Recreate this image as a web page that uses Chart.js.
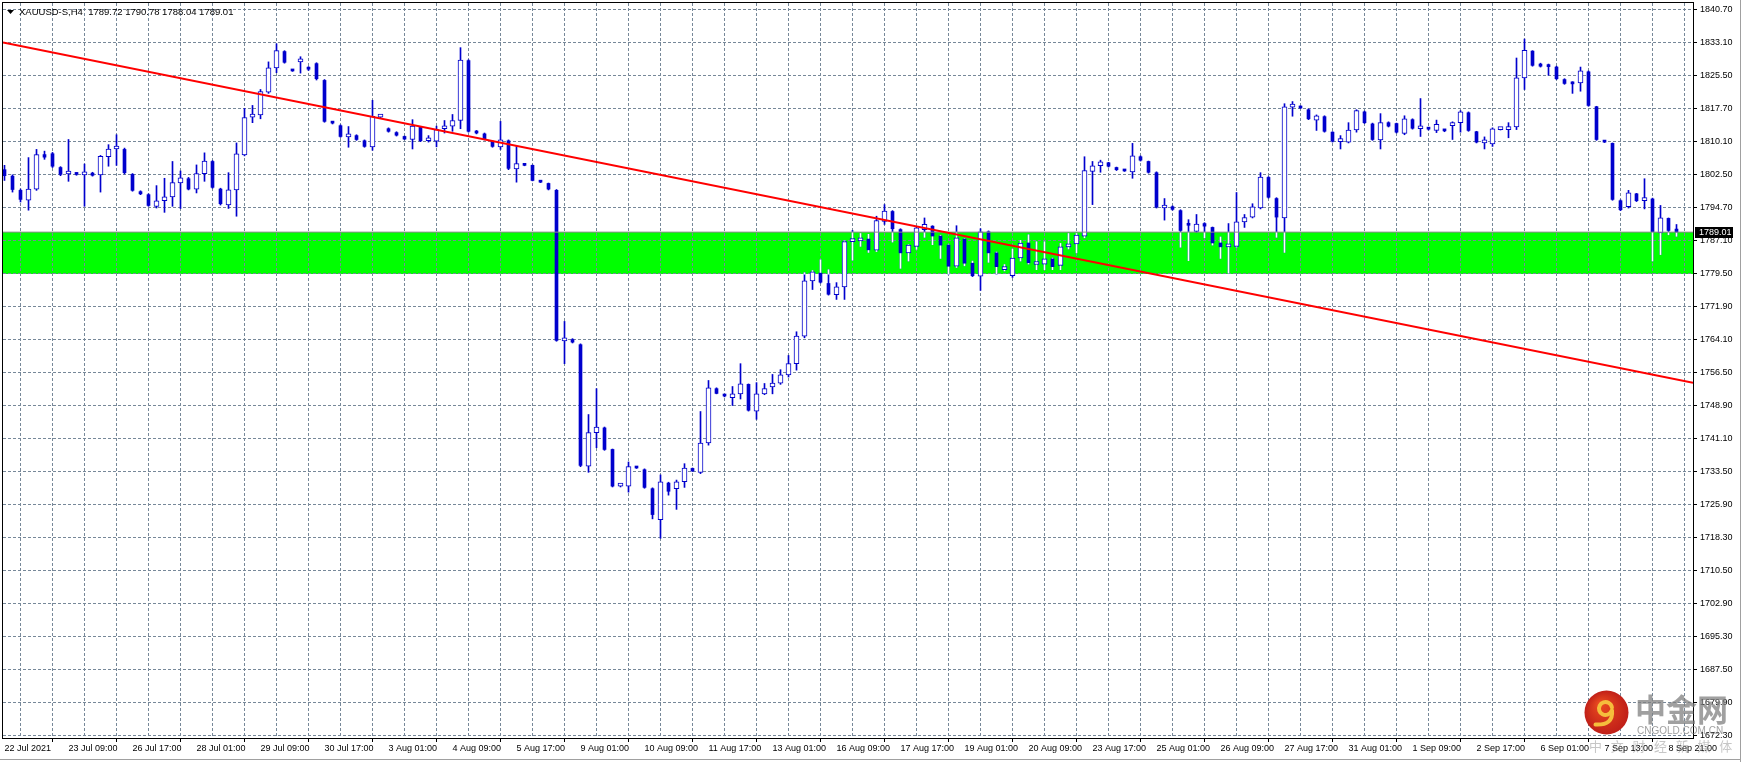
<!DOCTYPE html>
<html>
<head>
<meta charset="utf-8">
<script src="https://cdn.jsdelivr.net/npm/chart.js@4.4.1/dist/chart.umd.min.js"></script>
<style>
html, body { margin: 0; padding: 0; background: #fff; }
canvas { display: block; }
</style>
</head>
<body>
<canvas id="chart" width="1741" height="762"></canvas>
<script>
// XAUUSD-S H4 bars, 22 Jul 2021 01:00 .. 9 Sep 2021 01:00
const opens = [
  1803.5, 1802.0, 1798.7, 1796.4, 1799.0, 1807.0, 1807.2, 1804.0, 1802.5, 1802.6,
  1802.3, 1802.7, 1802.3, 1806.5, 1808.3, 1808.2, 1802.4, 1798.4, 1797.7, 1795.0,
  1796.3, 1797.2, 1800.4, 1801.4, 1799.0, 1802.6, 1805.4, 1799.0, 1795.3, 1798.8,
  1806.9, 1815.7, 1816.2, 1821.5, 1827.1, 1830.9, 1826.6, 1828.5, 1827.0, 1828.1,
  1824.2, 1814.4, 1813.7, 1811.1, 1811.4, 1810.2, 1808.8, 1815.7, 1813.0, 1812.1,
  1811.2, 1810.5, 1813.3, 1810.2, 1810.1, 1813.0, 1813.6, 1814.9, 1828.8, 1812.3,
  1811.8, 1810.1, 1808.8, 1810.2, 1803.7, 1804.6, 1804.5, 1800.7, 1800.3, 1798.7,
  1763.8, 1764.1, 1762.9, 1734.7, 1742.5, 1743.6, 1738.6, 1730.1, 1730.1, 1734.4,
  1733.9, 1729.5, 1722.3, 1730.8, 1729.5, 1731.1, 1734.2, 1733.3, 1740.1, 1752.7,
  1751.3, 1750.6, 1751.5, 1753.7, 1747.5, 1751.5, 1753.1, 1754.0, 1755.9, 1758.5,
  1764.9, 1777.7, 1779.5, 1777.1, 1774.5, 1776.3, 1786.8, 1787.0, 1787.4, 1784.8,
  1791.5, 1793.8, 1789.6, 1784.2, 1785.7, 1789.6, 1790.4, 1788.1, 1786.0, 1781.1,
  1787.4, 1781.8, 1778.8, 1789.1, 1784.2, 1780.3, 1778.9, 1783.0, 1786.5, 1781.5,
  1781.6, 1782.8, 1781.3, 1785.6, 1786.3, 1788.1, 1803.1, 1804.4, 1805.1, 1804.0,
  1803.3, 1803.0, 1806.5, 1805.4, 1802.8, 1794.6, 1794.9, 1794.0, 1790.8, 1789.2,
  1791.0, 1790.1, 1786.5, 1785.6, 1785.7, 1791.4, 1792.5, 1794.6, 1801.7, 1796.8,
  1792.3, 1818.0, 1818.1, 1817.4, 1815.0, 1815.8, 1812.2, 1810.0, 1809.9, 1812.7,
  1816.9, 1814.1, 1810.4, 1814.4, 1814.2, 1811.9, 1815.1, 1813.0, 1813.0, 1812.6,
  1812.6, 1813.7, 1814.4, 1816.7, 1812.3, 1809.7, 1809.5, 1812.8, 1812.8, 1813.4,
  1824.8, 1831.0, 1828.0, 1827.5, 1827.3, 1824.4, 1823.6, 1823.6, 1826.2, 1818.1,
  1810.1, 1809.6, 1796.3, 1794.9, 1797.9, 1796.3, 1796.7, 1788.8, 1792.2, 1789.72
];
const highs = [
  1804.5, 1802.3, 1799.0, 1806.3, 1808.2, 1807.8, 1807.5, 1804.2, 1810.5, 1802.8,
  1804.8, 1802.9, 1806.8, 1809.3, 1811.6, 1808.5, 1802.6, 1798.6, 1797.9, 1799.8,
  1801.5, 1805.4, 1803.2, 1801.7, 1804.6, 1807.4, 1805.6, 1799.2, 1802.8, 1809.7,
  1817.7, 1818.4, 1822.1, 1828.5, 1832.7, 1831.1, 1826.7, 1829.7, 1827.4, 1828.3,
  1824.4, 1814.6, 1813.9, 1813.5, 1811.6, 1810.4, 1819.6, 1815.9, 1813.2, 1812.3,
  1811.3, 1815.1, 1813.5, 1811.4, 1813.6, 1814.9, 1816.3, 1831.8, 1829.0, 1812.6,
  1812.0, 1810.2, 1814.7, 1810.4, 1808.9, 1804.7, 1804.6, 1800.8, 1800.4, 1798.9,
  1768.3, 1764.3, 1763.1, 1746.7, 1752.7, 1743.8, 1738.7, 1730.5, 1735.7, 1734.5,
  1734.1, 1729.7, 1732.7, 1731.0, 1731.5, 1735.3, 1734.3, 1747.4, 1754.6, 1752.9,
  1751.4, 1753.2, 1758.5, 1753.8, 1754.1, 1753.9, 1756.0, 1757.1, 1760.4, 1765.9,
  1779.6, 1780.1, 1782.6, 1780.3, 1777.3, 1787.0, 1789.4, 1788.7, 1788.5, 1792.7,
  1795.4, 1794.0, 1789.8, 1786.1, 1790.2, 1792.3, 1790.5, 1788.3, 1786.1, 1790.5,
  1787.5, 1782.3, 1789.8, 1789.3, 1784.4, 1781.5, 1785.1, 1787.1, 1788.4, 1786.8,
  1786.8, 1783.0, 1786.4, 1788.7, 1788.7, 1806.5, 1805.4, 1805.7, 1805.2, 1804.1,
  1803.4, 1809.6, 1806.7, 1805.5, 1803.0, 1796.8, 1795.1, 1794.2, 1791.9, 1793.1,
  1791.2, 1790.2, 1787.9, 1791.0, 1798.2, 1793.1, 1795.6, 1802.8, 1801.9, 1797.0,
  1818.8, 1819.3, 1818.3, 1817.6, 1816.2, 1816.0, 1812.3, 1811.4, 1814.4, 1817.4,
  1817.1, 1814.3, 1816.5, 1814.6, 1814.3, 1816.0, 1815.3, 1820.0, 1813.1, 1815.0,
  1812.8, 1814.6, 1817.2, 1816.9, 1812.4, 1811.1, 1813.2, 1813.0, 1814.4, 1829.4,
  1833.8, 1831.1, 1828.2, 1828.0, 1827.5, 1824.6, 1823.9, 1827.3, 1826.4, 1818.2,
  1810.2, 1809.7, 1796.5, 1798.7, 1798.0, 1801.4, 1796.9, 1795.2, 1792.3, 1790.78
];
const lows = [
  1801.0, 1798.3, 1796.0, 1794.1, 1798.7, 1805.9, 1804.0, 1802.1, 1800.8, 1802.2,
  1795.0, 1802.0, 1798.3, 1804.3, 1804.5, 1802.5, 1798.5, 1797.7, 1795.0, 1794.6,
  1793.6, 1795.0, 1794.5, 1798.8, 1798.1, 1800.8, 1799.2, 1795.3, 1794.5, 1792.7,
  1806.7, 1814.4, 1815.3, 1821.2, 1826.0, 1828.2, 1826.3, 1825.9, 1826.5, 1824.3,
  1814.5, 1814.1, 1811.0, 1808.7, 1810.3, 1808.7, 1808.0, 1815.5, 1812.2, 1811.3,
  1810.5, 1808.3, 1810.0, 1809.9, 1808.8, 1812.0, 1812.4, 1813.0, 1812.2, 1811.8,
  1810.4, 1808.7, 1808.2, 1803.5, 1800.6, 1804.4, 1800.9, 1800.5, 1798.8, 1763.7,
  1758.5, 1763.3, 1734.6, 1733.3, 1739.0, 1738.4, 1729.9, 1729.9, 1728.7, 1734.2,
  1729.6, 1722.5, 1718.0, 1728.0, 1724.7, 1729.8, 1733.5, 1733.0, 1739.6, 1751.5,
  1750.8, 1748.8, 1750.3, 1747.5, 1745.6, 1751.3, 1751.5, 1753.7, 1755.4, 1757.0,
  1764.5, 1775.7, 1777.2, 1774.4, 1773.4, 1773.4, 1782.5, 1785.7, 1784.3, 1784.5,
  1790.8, 1786.7, 1780.6, 1782.3, 1785.0, 1787.8, 1786.1, 1782.9, 1779.2, 1780.8,
  1781.2, 1778.7, 1775.5, 1782.0, 1779.2, 1780.0, 1778.5, 1782.3, 1781.6, 1780.3,
  1780.3, 1780.3, 1780.3, 1785.1, 1784.2, 1787.7, 1795.4, 1802.9, 1804.1, 1803.3,
  1803.1, 1801.5, 1805.5, 1802.7, 1794.6, 1791.8, 1794.1, 1785.5, 1782.4, 1789.0,
  1787.7, 1786.0, 1782.9, 1779.5, 1785.5, 1790.1, 1792.3, 1794.4, 1796.9, 1787.8,
  1784.3, 1815.9, 1817.7, 1815.1, 1812.6, 1812.2, 1809.9, 1808.3, 1809.7, 1812.2,
  1814.2, 1810.3, 1808.3, 1813.4, 1812.0, 1811.6, 1812.9, 1811.2, 1812.7, 1812.1,
  1812.3, 1810.5, 1812.2, 1812.4, 1809.7, 1808.3, 1808.9, 1812.7, 1810.9, 1812.8,
  1822.1, 1827.5, 1827.3, 1825.4, 1824.4, 1823.3, 1821.2, 1821.7, 1818.2, 1810.3,
  1809.8, 1796.4, 1794.0, 1794.6, 1796.1, 1794.4, 1782.3, 1783.8, 1788.4, 1788.04
];
const closes = [
  1802.1, 1798.9, 1796.6, 1799.0, 1807.0, 1806.4, 1804.3, 1802.4, 1802.7, 1802.4,
  1802.8, 1802.2, 1806.6, 1808.3, 1808.4, 1802.8, 1798.7, 1797.9, 1795.2, 1796.3,
  1797.2, 1800.5, 1801.6, 1799.0, 1802.6, 1805.5, 1799.4, 1795.6, 1798.8, 1807.2,
  1815.6, 1816.2, 1821.6, 1827.1, 1831.1, 1828.4, 1826.4, 1828.6, 1826.8, 1824.6,
  1814.7, 1814.3, 1811.2, 1811.6, 1810.5, 1808.9, 1815.9, 1815.8, 1812.4, 1811.5,
  1810.6, 1813.6, 1810.2, 1810.7, 1812.8, 1813.6, 1814.9, 1828.9, 1812.4, 1812.0,
  1810.6, 1808.9, 1810.4, 1803.8, 1804.9, 1804.5, 1801.0, 1800.6, 1799.0, 1763.9,
  1764.4, 1763.5, 1734.9, 1742.5, 1743.8, 1738.6, 1730.1, 1730.3, 1734.6, 1734.3,
  1729.8, 1723.5, 1731.1, 1728.9, 1731.1, 1734.3, 1733.6, 1740.1, 1752.9, 1751.6,
  1751.0, 1751.5, 1753.8, 1747.7, 1751.5, 1752.7, 1754.0, 1755.9, 1758.5, 1764.9,
  1777.7, 1779.8, 1777.4, 1774.6, 1776.3, 1786.8, 1787.0, 1787.2, 1784.9, 1791.7,
  1793.9, 1789.8, 1784.2, 1786.0, 1790.0, 1790.8, 1788.1, 1786.0, 1781.1, 1787.7,
  1781.8, 1778.9, 1789.1, 1784.2, 1781.0, 1780.9, 1783.0, 1786.5, 1781.9, 1781.9,
  1782.8, 1781.0, 1785.6, 1786.3, 1788.3, 1803.3, 1804.4, 1805.3, 1804.3, 1803.5,
  1803.2, 1806.7, 1805.7, 1802.9, 1794.8, 1795.2, 1794.3, 1789.4, 1790.6, 1790.9,
  1790.4, 1786.5, 1785.6, 1786.1, 1791.4, 1792.4, 1794.9, 1801.8, 1797.1, 1792.5,
  1818.1, 1818.1, 1817.8, 1815.3, 1816.0, 1812.4, 1810.1, 1810.2, 1812.7, 1817.2,
  1814.4, 1810.5, 1814.4, 1813.6, 1812.2, 1815.3, 1813.1, 1813.2, 1812.9, 1814.0,
  1812.5, 1814.4, 1816.9, 1812.6, 1809.9, 1809.8, 1813.0, 1812.9, 1813.4, 1824.8,
  1831.2, 1827.7, 1827.5, 1827.4, 1824.6, 1823.5, 1823.4, 1826.4, 1818.4, 1810.5,
  1809.9, 1796.6, 1794.2, 1798.1, 1796.3, 1797.0, 1789.1, 1792.3, 1789.4, 1789.01
];

// one label every 8 bars, starting at bar 0
const xTickLabels = [
  '22 Jul 2021', '23 Jul 09:00', '26 Jul 17:00', '28 Jul 01:00', '29 Jul 09:00',
  '30 Jul 17:00', '3 Aug 01:00', '4 Aug 09:00', '5 Aug 17:00', '9 Aug 01:00',
  '10 Aug 09:00', '11 Aug 17:00', '13 Aug 01:00', '16 Aug 09:00', '17 Aug 17:00',
  '19 Aug 01:00', '20 Aug 09:00', '23 Aug 17:00', '25 Aug 01:00', '26 Aug 09:00',
  '27 Aug 17:00', '31 Aug 01:00', '1 Sep 09:00', '2 Sep 17:00', '6 Sep 01:00',
  '7 Sep 13:00', '8 Sep 21:00'
];
const yTickLabels = [
  '1840.70', '1833.10', '1825.50', '1817.70', '1810.10', '1802.50', '1794.70',
  '1787.10', '1779.50', '1771.90', '1764.10', '1756.50', '1748.90', '1741.10',
  '1733.50', '1725.90', '1718.30', '1710.50', '1702.90', '1695.30', '1687.50',
  '1679.90', '1672.30'
];

// support zone (rectangle object) and trend line anchors (bar index, price)
const zoneLow = 1779.25;
const zoneHigh = 1789.0;
const trendBars = [-0.1875, 211.0625];
const trendPrices = [1832.98, 1754.04];

const symbolName = 'XAUUSD-S,H4';

// visible window
const xMin = -0.1875, xMax = 211.0625;
const yMax = 1842.16, yMin = 1671.67;

const blue = '#0000cd';
const gridColor = '#778899';
const fontFamily = '"Liberation Sans", Arial, sans-serif';

const yFirst = parseFloat(yTickLabels[0]);
const yStep = (yFirst - parseFloat(yTickLabels[yTickLabels.length - 1])) / (yTickLabels.length - 1);

const wickData = [], wickInZone = [], upBodies = [], downBodies = [];
for (let i = 0; i < opens.length; i++) {
    wickData.push({x: i, y: [lows[i], highs[i]]});
    const lo = Math.max(lows[i], zoneLow), hi = Math.min(highs[i], zoneHigh);
    if (hi > lo) wickInZone.push({x: i, y: [lo, hi]});
    if (closes[i] >= opens[i]) {
        upBodies.push({x: i, y: [opens[i], closes[i]]});
    } else {
        downBodies.push({x: i, y: [closes[i], opens[i]]});
    }
}

const zonePlugin = {
    id: 'zone',
    beforeDraw(chart) {
        const {ctx, chartArea: a, scales: {y}} = chart;
        const top = Math.round(y.getPixelForValue(zoneHigh));
        const bot = Math.round(y.getPixelForValue(zoneLow));
        ctx.save();
        ctx.fillStyle = '#00ff00';
        ctx.fillRect(a.left, top, a.right - a.left, bot - top);
        ctx.restore();
    }
};

function drawLogo(ctx, cx, cy, r) {
    const g = ctx.createRadialGradient(cx - r * 0.3, cy - r * 0.4, 2, cx, cy, r);
    g.addColorStop(0, '#e8481f');
    g.addColorStop(1, '#c01f18');
    ctx.fillStyle = g;
    ctx.beginPath();
    ctx.arc(cx, cy, r, 0, Math.PI * 2);
    ctx.fill();
    ctx.strokeStyle = '#f5bd3c';
    ctx.lineCap = 'round';
    ctx.lineWidth = 4;
    ctx.beginPath();
    ctx.arc(cx - 1, cy - 4, 6.5, Math.PI * 0.15, Math.PI * 1.95);
    ctx.stroke();
    ctx.beginPath();
    ctx.moveTo(cx + 5.5, cy - 2);
    ctx.quadraticCurveTo(cx + 7, cy + 13, cx - 11, cy + 12);
    ctx.stroke();
}

const overlayPlugin = {
    id: 'overlay',
    afterDraw(chart) {
        const {ctx, chartArea: a, scales: {y}} = chart;
        const n = closes.length - 1;
        ctx.save();
        // chart frame
        ctx.strokeStyle = '#000';
        ctx.lineWidth = 1;
        ctx.strokeRect(a.left - 0.5, a.top - 0.5, a.right - a.left + 1, a.bottom - a.top + 1);
        // window edges
        ctx.fillStyle = '#a0a0a0';
        ctx.fillRect(0, 759, chart.width, 1);
        ctx.fillRect(chart.width - 1, 0, 1, chart.height);

        // symbol line
        ctx.fillStyle = '#000';
        ctx.beginPath();
        ctx.moveTo(7, 10); ctx.lineTo(14, 10); ctx.lineTo(10.5, 14); ctx.closePath();
        ctx.fill();
        ctx.font = '9.5px ' + fontFamily;
        ctx.textBaseline = 'middle';
        ctx.textAlign = 'left';
        const txt = symbolName + '  ' + [opens[n], highs[n], lows[n], closes[n]].map(v => v.toFixed(2)).join(' ');
        ctx.fillText(txt, 19, 12);

        // last price tag
        ctx.font = '9px ' + fontFamily;
        const py = Math.round(y.getPixelForValue(closes[n]));
        ctx.fillStyle = '#000';
        ctx.fillRect(a.right + 2, py - 5, 38, 11);
        ctx.fillStyle = '#fff';
        ctx.fillText(closes[n].toFixed(2), a.right + 6, py + 0.5);

        // watermark
        drawLogo(ctx, 1606.5, 712.5, 22);
        ctx.globalAlpha = 0.75;
        ctx.fillStyle = '#808080';
        ctx.font = 'bold 31px "Noto Sans CJK SC", sans-serif';
        ctx.textBaseline = 'middle';
        ctx.fillText('中金网', 1635, 709);
        ctx.font = '10px ' + fontFamily;
        ctx.fillText('CNGOLD.COM.CN', 1637, 731);
        ctx.globalAlpha = 0.45;
        ctx.font = '13px "Noto Sans CJK SC", sans-serif';
        const sub = ['中', '文', '财', '经', '新', '媒', '体'];
        sub.forEach((ch, k) => ctx.fillText(ch, 1589 + k * 21.7, 746));
        ctx.restore();
    }
};

new Chart(document.getElementById('chart'), {
    type: 'bar',
    data: {
        datasets: [
            {
                type: 'line',
                data: trendBars.map((b, k) => ({x: b, y: trendPrices[k]})),
                borderColor: '#ff0000',
                borderWidth: 2,
                pointRadius: 0,
                tension: 0,
                order: 1
            },
            {
                type: 'line',
                data: [{x: xMin, y: closes[closes.length - 1]}, {x: xMax, y: closes[closes.length - 1]}],
                borderColor: '#8c8c8c',
                borderWidth: 1,
                pointRadius: 0,
                order: 3
            },
            {
                data: downBodies,
                backgroundColor: blue,
                borderWidth: 0,
                barThickness: 3,
                minBarLength: 2,
                grouped: false,
                order: 4
            },
            {
                data: upBodies,
                backgroundColor: '#ffffff',
                borderColor: blue,
                borderWidth: 1,
                borderSkipped: false,
                barThickness: 5,
                minBarLength: 3,
                grouped: false,
                order: 4
            },
            {
                data: wickInZone,
                backgroundColor: '#ffffff',
                borderWidth: 0,
                barThickness: 1,
                grouped: false,
                order: 5
            },
            {
                data: wickData,
                backgroundColor: blue,
                borderWidth: 0,
                barThickness: 1,
                grouped: false,
                order: 6
            }
        ]
    },
    options: {
        responsive: false,
        animation: false,
        devicePixelRatio: 1,
        events: [],
        layout: {padding: {left: 3, top: 3, right: 0, bottom: 0}},
        plugins: {
            legend: {display: false},
            tooltip: {enabled: false}
        },
        scales: {
            x: {
                type: 'linear',
                min: xMin,
                max: xMax,
                offset: false,
                bounds: 'data',
                afterBuildTicks: s => {
                    s.ticks = [];
                    for (let i = 0; i < opens.length; i += 4) s.ticks.push({value: i});
                },
                afterFit: s => {
                    s.height = 24;
                    s.paddingLeft = 0;
                    s.paddingRight = 0;
                },
                grid: {
                    color: gridColor,
                    lineWidth: 1,
                    tickLength: 4,
                    tickColor: c => (c.tick && c.tick.value % 8 === 0) ? '#000' : 'rgba(0,0,0,0)'
                },
                border: {color: '#000', width: 1, dash: [3, 2]},
                ticks: {
                    autoSkip: false,
                    maxRotation: 0,
                    minRotation: 0,
                    align: 'start',
                    padding: 1,
                    color: '#000',
                    font: {family: fontFamily, size: 9},
                    callback: v => v % 8 === 0 ? xTickLabels[v / 8] : ''
                }
            },
            y: {
                position: 'right',
                min: yMin,
                max: yMax,
                bounds: 'data',
                afterBuildTicks: s => {
                    s.ticks = yTickLabels.map((t, k) => ({value: yFirst - k * yStep}));
                },
                afterFit: s => {
                    s.width = 48;
                    s.paddingTop = 0;
                    s.paddingBottom = 0;
                },
                grid: {
                    color: gridColor,
                    lineWidth: 1,
                    tickLength: 4,
                    tickColor: '#000'
                },
                border: {color: '#000', width: 1, dash: [3, 2]},
                ticks: {
                    padding: 3,
                    color: '#000',
                    font: {family: fontFamily, size: 9},
                    callback: (v, k) => yTickLabels[k]
                }
            }
        }
    },
    plugins: [zonePlugin, overlayPlugin]
});
</script>
</body>
</html>
